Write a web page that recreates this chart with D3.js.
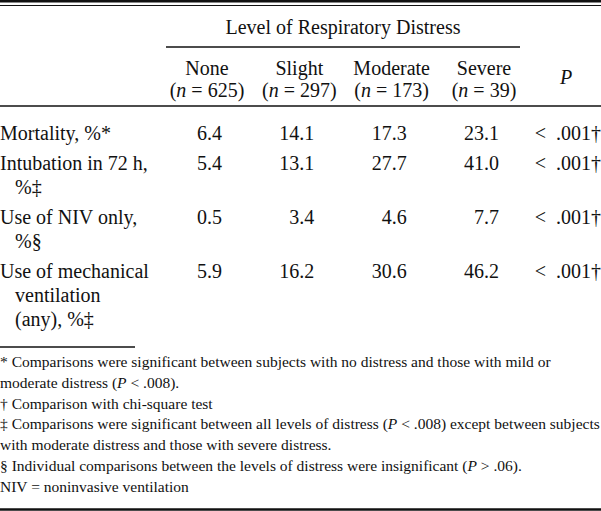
<!DOCTYPE html>
<html lang="en">
<head>
  <meta charset="UTF-8">
  <title>Outcomes by level of respiratory distress</title>
  <style>
    body { margin: 0; background: #fff; }
    svg { display: block; }
    text { font-family: "Liberation Serif", "Times New Roman", serif; fill: #111; }
    .rule { stroke: #111; }
  </style>
</head>
<body>
  <script src="https://cdn.jsdelivr.net/npm/d3@7"></script>
  <script>
    // table data
    const categories = ["None", "Slight", "Moderate", "Severe"];
    const sampleSizes = [625, 297, 173, 39];
    const rowLabels = [
      ["Mortality, %*"],
      ["Intubation in 72 h,", "%‡"],
      ["Use of NIV only,", "%§"],
      ["Use of mechanical", "ventilation", "(any), %‡"]
    ];
    const noneValues = [6.4, 5.4, 0.5, 5.9];
    const slightValues = [14.1, 13.1, 3.4, 16.2];
    const moderateValues = [17.3, 27.7, 4.6, 30.6];
    const severeValues = [23.1, 41.0, 7.7, 46.2];
    const pValues = ["<\u2002.001†", "<\u2002.001†", "<\u2002.001†", "<\u2002.001†"];
    const footnotes = [
      "* Comparisons were significant between subjects with no distress and those with mild or",
      "moderate distress (_P_ < .008).",
      "† Comparison with chi-square test",
      "‡ Comparisons were significant between all levels of distress (_P_ < .008) except between subjects",
      "with moderate distress and those with severe distress.",
      "§ Individual comparisons between the levels of distress were insignificant (_P_ > .06).",
      "NIV = noninvasive ventilation"
    ];

    const width = 601, height = 511;
    const svg = d3.select("body").append("svg")
      .attr("width", width)
      .attr("height", height);

    // column centres
    const x = d3.scalePoint().domain(categories).range([207, 484]);
    const pX = 564;
    const lineH = 24;

    // split "_P_" markers into italic tspans
    function richText(sel, str) {
      str.split("_").forEach((part, i) => {
        if (!part) return;
        sel.append("tspan").attr("font-style", i % 2 ? "italic" : null).text(part);
      });
    }

    // top double rule
    svg.append("line").attr("class", "rule").attr("x1", 0).attr("x2", width)
      .attr("y1", 1.2).attr("y2", 1.2).attr("stroke-width", 2.5);
    svg.append("line").attr("class", "rule").attr("x1", 0).attr("x2", width)
      .attr("y1", 5.5).attr("y2", 5.5).attr("stroke-width", 1);

    // spanner header
    svg.append("text")
      .attr("x", 343)
      .attr("y", 34)
      .attr("text-anchor", "middle")
      .attr("font-size", 20)
      .text("Level of Respiratory Distress");
    svg.append("line").attr("class", "rule")
      .attr("x1", 166).attr("x2", 520)
      .attr("y1", 47).attr("y2", 47).attr("stroke-width", 1.5);

    // column headers
    const head = svg.append("g").selectAll("g")
      .data(categories)
      .join("g")
      .attr("transform", d => `translate(${x(d)},0)`);
    head.append("text")
      .attr("y", 75)
      .attr("text-anchor", "middle")
      .attr("font-size", 20)
      .text(d => d);
    head.append("text")
      .attr("y", 97)
      .attr("text-anchor", "middle")
      .attr("font-size", 20)
      .each(function(d, i) {
        const t = d3.select(this);
        t.append("tspan").text("(");
        t.append("tspan").attr("font-style", "italic").text("n");
        t.append("tspan").text(" = " + sampleSizes[i] + ")");
      });
    svg.append("text")
      .attr("x", pX + 2)
      .attr("y", 84)
      .attr("text-anchor", "middle")
      .attr("font-size", 20)
      .attr("font-style", "italic")
      .text("P");

    svg.append("line").attr("class", "rule")
      .attr("x1", 0).attr("x2", width)
      .attr("y1", 106).attr("y2", 106).attr("stroke-width", 1.5);

    // body rows
    const series = [noneValues, slightValues, moderateValues, severeValues];
    let y0 = 140;
    const rowY = rowLabels.map(lines => {
      const y = y0;
      y0 += lines.length * lineH + 6;
      return y;
    });

    const rows = svg.append("g").selectAll("g")
      .data(rowLabels)
      .join("g")
      .attr("transform", (d, i) => `translate(0,${rowY[i]})`);

    rows.selectAll("text.label")
      .data(d => d)
      .join("text")
      .attr("class", "label")
      .attr("x", (d, j) => j ? 15 : 0)
      .attr("y", (d, j) => j * lineH)
      .attr("font-size", 20)
      .text(d => d);

    rows.each(function(d, r) {
      const g = d3.select(this);
      categories.forEach((c, k) => {
        g.append("text")
          .attr("x", x(c) + 15)
          .attr("text-anchor", "end")
          .attr("font-size", 20)
          .text(series[k][r].toFixed(1));
      });
      g.append("text")
        .attr("x", width)
        .attr("text-anchor", "end")
        .attr("font-size", 20)
        .text(pValues[r]);
    });

    // footnotes
    svg.append("line").attr("class", "rule")
      .attr("x1", 0).attr("x2", 135)
      .attr("y1", 347).attr("y2", 347).attr("stroke-width", 1.5);

    svg.append("g").selectAll("text")
      .data(footnotes)
      .join("text")
      .attr("x", 0)
      .attr("y", (d, i) => 367 + i * 20.8)
      .attr("font-size", 15.5)
      .each(function(d) { richText(d3.select(this), d); });

    svg.append("line").attr("class", "rule")
      .attr("x1", 0).attr("x2", width)
      .attr("y1", 509.5).attr("y2", 509.5).attr("stroke-width", 2.5);
  </script>
</body>
</html>
